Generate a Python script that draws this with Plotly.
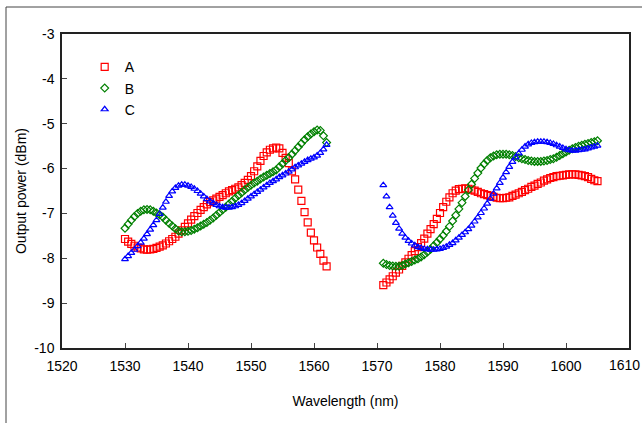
import plotly.graph_objects as go

# Wavelength grids (nm)
wl_left = [1530.0, 1530.5, 1531.0, 1531.5, 1532.0, 1532.5, 1533.0, 1533.5, 1534.0, 1534.5,
           1535.0, 1535.5, 1536.0, 1536.5, 1537.0, 1537.5, 1538.0, 1538.5, 1539.0, 1539.5,
           1540.0, 1540.5, 1541.0, 1541.5, 1542.0, 1542.5, 1543.0, 1543.5, 1544.0, 1544.5,
           1545.0, 1545.5, 1546.0, 1546.5, 1547.0, 1547.5, 1548.0, 1548.5, 1549.0, 1549.5,
           1550.0, 1550.5, 1551.0, 1551.5, 1552.0, 1552.5, 1553.0, 1553.5, 1554.0, 1554.5,
           1555.0, 1555.5, 1556.0, 1556.5, 1557.0, 1557.5, 1558.0, 1558.5, 1559.0, 1559.5,
           1560.0, 1560.5, 1561.0, 1561.5, 1562.0]
wl_right = [1571.0, 1571.5, 1572.0, 1572.5, 1573.0, 1573.5, 1574.0, 1574.5, 1575.0, 1575.5,
            1576.0, 1576.5, 1577.0, 1577.5, 1578.0, 1578.5, 1579.0, 1579.5, 1580.0, 1580.5,
            1581.0, 1581.5, 1582.0, 1582.5, 1583.0, 1583.5, 1584.0, 1584.5, 1585.0, 1585.5,
            1586.0, 1586.5, 1587.0, 1587.5, 1588.0, 1588.5, 1589.0, 1589.5, 1590.0, 1590.5,
            1591.0, 1591.5, 1592.0, 1592.5, 1593.0, 1593.5, 1594.0, 1594.5, 1595.0, 1595.5,
            1596.0, 1596.5, 1597.0, 1597.5, 1598.0, 1598.5, 1599.0, 1599.5, 1600.0, 1600.5,
            1601.0, 1601.5, 1602.0, 1602.5, 1603.0, 1603.5, 1604.0, 1604.5, 1605.0]

# Output power (dBm)
a_left = [-7.57, -7.63, -7.68, -7.72, -7.76, -7.78, -7.80, -7.81, -7.80, -7.79,
          -7.77, -7.74, -7.71, -7.67, -7.62, -7.57, -7.52, -7.45, -7.38, -7.30,
          -7.22, -7.14, -7.06, -6.99, -6.92, -6.86, -6.80, -6.75, -6.71, -6.67,
          -6.63, -6.59, -6.55, -6.51, -6.48, -6.45, -6.42, -6.37, -6.32, -6.25,
          -6.17, -6.06, -5.95, -5.83, -5.72, -5.64, -5.58, -5.55, -5.53, -5.55,
          -5.65, -5.76, -5.88, -6.06, -6.24, -6.47, -6.72, -6.97, -7.20, -7.43,
          -7.60, -7.76, -7.90, -8.05, -8.18]
a_right = [-8.60, -8.54, -8.47, -8.40, -8.32, -8.25, -8.17, -8.09, -8.01, -7.93,
           -7.84, -7.75, -7.66, -7.56, -7.45, -7.35, -7.24, -7.12, -6.99, -6.86,
           -6.74, -6.64, -6.55, -6.49, -6.46, -6.45, -6.44, -6.45, -6.47, -6.49,
           -6.52, -6.55, -6.57, -6.59, -6.61, -6.63, -6.65, -6.66, -6.66, -6.65,
           -6.64, -6.61, -6.58, -6.55, -6.52, -6.48, -6.45, -6.41, -6.38, -6.34,
           -6.31, -6.27, -6.24, -6.21, -6.19, -6.17, -6.16, -6.15, -6.14, -6.13,
           -6.13, -6.13, -6.14, -6.15, -6.17, -6.19, -6.23, -6.26, -6.28]

b_left = [-7.33, -7.24, -7.15, -7.07, -7.00, -6.95, -6.92, -6.91, -6.92, -6.95,
          -6.99, -7.03, -7.08, -7.15, -7.22, -7.28, -7.34, -7.39, -7.41, -7.41,
          -7.40, -7.38, -7.35, -7.32, -7.28, -7.24, -7.20, -7.15, -7.10, -7.04,
          -6.98, -6.92, -6.86, -6.79, -6.73, -6.66, -6.60, -6.54, -6.48, -6.42,
          -6.37, -6.32, -6.28, -6.23, -6.19, -6.15, -6.11, -6.07, -6.03, -5.96,
          -5.89, -5.82, -5.76, -5.68, -5.60, -5.52, -5.44, -5.36, -5.29, -5.23,
          -5.18, -5.14, -5.15, -5.27, -5.42]
b_right = [-8.11, -8.14, -8.16, -8.17, -8.18, -8.18, -8.16, -8.13, -8.10, -8.07,
           -8.04, -8.01, -7.97, -7.92, -7.86, -7.80, -7.72, -7.65, -7.57, -7.49,
           -7.40, -7.29, -7.17, -7.04, -6.90, -6.76, -6.62, -6.48, -6.35, -6.22,
           -6.10, -5.99, -5.90, -5.82, -5.76, -5.72, -5.69, -5.68, -5.68, -5.68,
           -5.69, -5.71, -5.73, -5.76, -5.78, -5.80, -5.82, -5.83, -5.84, -5.84,
           -5.84, -5.83, -5.82, -5.80, -5.78, -5.75, -5.71, -5.67, -5.63, -5.59,
           -5.56, -5.53, -5.50, -5.48, -5.46, -5.44, -5.42, -5.40, -5.38]

c_left = [-8.02, -7.95, -7.88, -7.81, -7.73, -7.65, -7.56, -7.46, -7.36, -7.26,
          -7.15, -7.01, -6.87, -6.74, -6.61, -6.51, -6.43, -6.38, -6.36, -6.36,
          -6.38, -6.41, -6.45, -6.50, -6.56, -6.62, -6.68, -6.73, -6.77, -6.81,
          -6.84, -6.86, -6.87, -6.87, -6.86, -6.84, -6.81, -6.77, -6.72, -6.67,
          -6.62, -6.57, -6.52, -6.47, -6.42, -6.37, -6.32, -6.28, -6.24, -6.19,
          -6.15, -6.11, -6.07, -6.02, -5.97, -5.93, -5.89, -5.85, -5.81, -5.78,
          -5.75, -5.71, -5.65, -5.57, -5.47]
c_right = [-6.37, -6.62, -6.86, -7.05, -7.21, -7.34, -7.45, -7.54, -7.61, -7.67,
           -7.71, -7.75, -7.77, -7.79, -7.80, -7.81, -7.81, -7.80, -7.79, -7.77,
           -7.74, -7.70, -7.66, -7.60, -7.54, -7.48, -7.42, -7.35, -7.27, -7.18,
           -7.09, -6.99, -6.89, -6.78, -6.67, -6.56, -6.44, -6.32, -6.20, -6.08,
           -5.96, -5.85, -5.75, -5.66, -5.58, -5.51, -5.46, -5.43, -5.41, -5.40,
           -5.40, -5.40, -5.41, -5.43, -5.45, -5.48, -5.51, -5.54, -5.57, -5.59,
           -5.60, -5.60, -5.59, -5.58, -5.57, -5.55, -5.53, -5.51, -5.49]

x_ticks = [1520, 1530, 1540, 1550, 1560, 1570, 1580, 1590, 1600, 1610]
x_tick_text = ["1520", "1530", "1540", "1550", "1560", "1570", "1580", "1590", "1600", ""]
last_x_label = "1610"
y_ticks = [-10, -9, -8, -7, -6, -5, -4, -3]
y_tick_text = ["-10", "-9", "-8", "-7", "-6", "-5", "-4", "-3"]

series = [
    ("A", a_left + a_right, "square-open", 7, "#FF0000"),
    ("B", b_left + b_right, "diamond-open", 6, "#008000"),
    ("C", c_left + c_right, "triangle-up-open", 6, "#0000FF"),
]
wl_all = wl_left + wl_right

fig = go.Figure()
for name, ys, sym, sz, col in series:
    fig.add_trace(go.Scatter(
        x=wl_all, y=ys, mode="markers", name=name,
        marker=dict(symbol=sym, size=sz, color=col, line=dict(width=1.2, color=col)),
    ))

font = dict(family="Arial, Liberation Sans, sans-serif", size=14, color="black")

fig.update_layout(
    width=642, height=423,
    margin=dict(l=62, r=13, t=34, b=75),
    paper_bgcolor="white", plot_bgcolor="white",
    font=font,
    showlegend=True,
    legend=dict(x=0.040, y=0.945, xanchor="left", yanchor="top",
                bgcolor="rgba(0,0,0,0)", font=dict(size=14),
                itemwidth=30, tracegroupgap=0),
    xaxis=dict(range=[1520, 1610], tickvals=x_ticks, ticktext=x_tick_text,
               ticks="inside", ticklen=5, ticklabelstandoff=4,
               showline=True, linecolor="#222", linewidth=1.5, mirror=True,
               showgrid=False, zeroline=False, automargin=False,
               title=dict(text="Wavelength (nm)", font=dict(size=14), standoff=24)),
    yaxis=dict(range=[-10, -3], tickvals=y_ticks, ticktext=y_tick_text,
               ticks="inside", ticklen=5, ticklabelstandoff=3,
               showline=True, linecolor="#222", linewidth=1.5, mirror=True,
               showgrid=False, zeroline=False, automargin=False,
               title=dict(text="Output power (dBm)", font=dict(size=14), standoff=4)),
    annotations=[dict(text=last_x_label, xref="paper", yref="paper", x=1.0, y=0,
                      xanchor="right", yanchor="top", xshift=13, yshift=-7,
                      showarrow=False, font=dict(size=14))],
    shapes=[dict(type="rect", xref="paper", yref="paper",
                 x0=(6 - 62) / 567, x1=(700 - 62) / 567,
                 y0=(348 - 480) / 314, y1=(348 - 7) / 314,
                 line=dict(color="#444", width=1), fillcolor="rgba(0,0,0,0)",
                 layer="below")],
)

fig.write_html("out.html", config={"displayModeBar": False},
               post_script="document.body.style.margin='0';")
